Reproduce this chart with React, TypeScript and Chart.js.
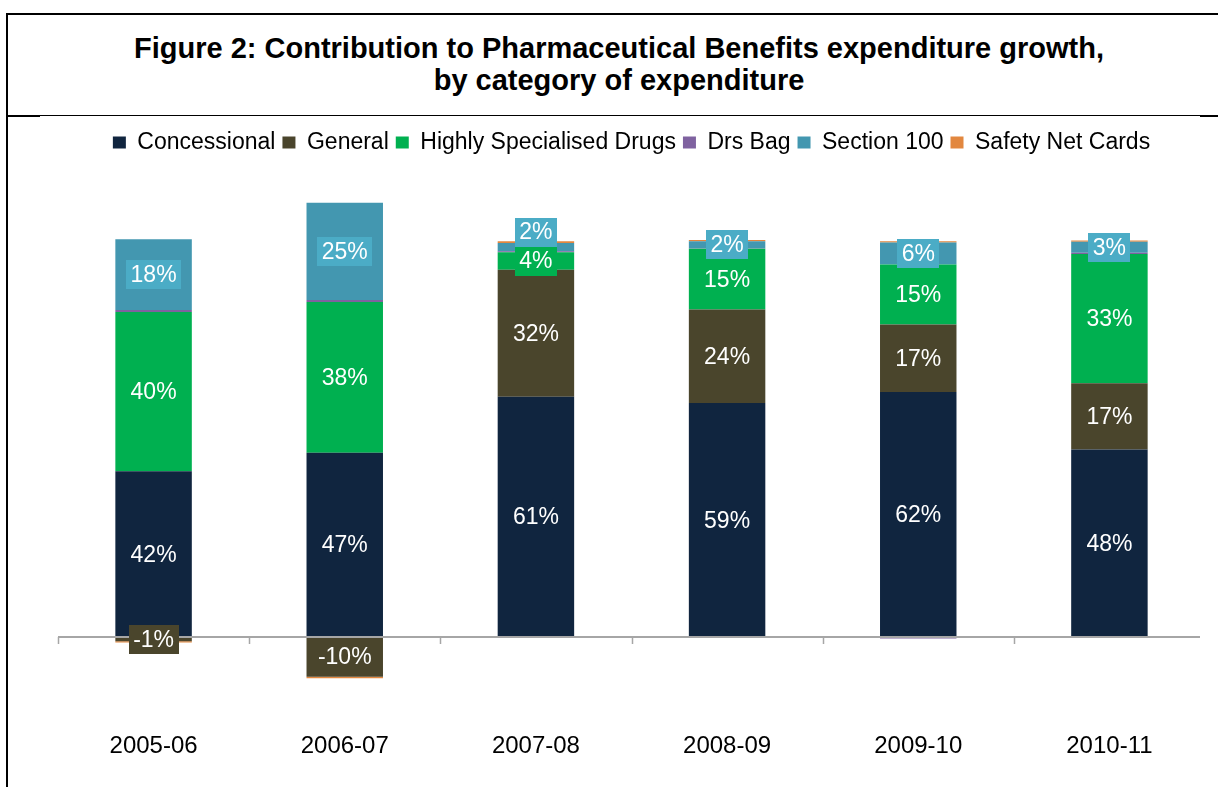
import React, { useEffect, useRef } from "react";
import { Chart, registerables } from "chart.js";

Chart.register(...registerables);

const categories = ["2005-06", "2006-07", "2007-08", "2008-09", "2009-10", "2010-11"];
const seriesNames = ["Concessional", "General", "Highly Specialised Drugs", "Drs Bag", "Section 100", "Safety Net Cards"];
const concessional = [42.1, 46.8, 61.0, 59.4, 62.2, 47.6];
const general = [-1.0, -10.0, 32.2, 23.7, 17.1, 16.8];
const highlySpecialised = [40.4, 38.2, 4.4, 15.4, 15.2, 32.8];
const drsBag = [0.5, 0.5, 0.3, 0.1, -0.3, 0.3];
const section100 = [17.9, 24.7, 2.1, 1.8, 5.6, 2.8];
const safetyNet = [-0.3, -0.4, 0.4, 0.3, 0.3, 0.3];

const barColors = ["#10253F", "#4A452C", "#00B050", "#7F62A0", "#4397B0", "#E2873F"];
const labelColors = ["#10253F", "#4A452C", "#00B050", null, "#4BACC6", null];
const FONT = "'Liberation Sans', Arial, Helvetica, sans-serif";

const segLabels = {
  id: "segLabels",
  afterDatasetsDraw(chart: any) {
    const ctx = chart.ctx;
    const xs = chart.scales.x;
    const ys = chart.scales.y;
    const y0 = Math.round(ys.getPixelForValue(0));
    const n = categories.length;
    const c0 = xs.getPixelForValue(0);
    const step = xs.getPixelForValue(1) - c0;
    ctx.save();
    ctx.strokeStyle = "#A6A6A6";
    ctx.lineWidth = 2;
    ctx.beginPath();
    ctx.moveTo(c0 - step / 2, y0);
    ctx.lineTo(c0 - step / 2 + n * step - 5, y0);
    ctx.stroke();
    ctx.lineWidth = 1.5;
    ctx.beginPath();
    for (let i = 0; i < n; i++) {
      const bx = Math.round(c0 - step / 2 + i * step) + 0.5;
      ctx.moveTo(bx, y0);
      ctx.lineTo(bx, y0 + 7);
    }
    ctx.stroke();

    ctx.font = `23px ${FONT}`;
    ctx.textAlign = "center";
    ctx.textBaseline = "middle";
    const lastTop: number[] = categories.map(() => Infinity);
    chart.data.datasets.forEach((ds: any, di: number) => {
      const bg = labelColors[di];
      if (!bg) return;
      const meta = chart.getDatasetMeta(di);
      meta.data.forEach((el: any, i: number) => {
        const v = ds.data[i];
        const t = Math.round(v) + "%";
        const p = el.getProps(["x", "y", "base"], true);
        const h = 29;
        let cy = (p.y + p.base) / 2;
        if (v >= 0) {
          if (cy + h / 2 > lastTop[i]) cy = lastTop[i] - h / 2;
          lastTop[i] = cy - h / 2;
        }
        const w = ctx.measureText(t).width + 9;
        ctx.fillStyle = bg;
        ctx.fillRect(Math.round(p.x - w / 2), Math.round(cy - h / 2), Math.round(w), h);
        ctx.fillStyle = "#FFFFFF";
        ctx.fillText(t, p.x, cy + 1);
      });
    });
    ctx.restore();
  },
};

export default function App() {
  const ref = useRef<HTMLCanvasElement | null>(null);
  useEffect(() => {
    if (!ref.current) return;
    const series = [concessional, general, highlySpecialised, drsBag, section100, safetyNet];
    const chart = new Chart(ref.current, {
      type: "bar",
      data: {
        labels: categories,
        datasets: series.map((d, i) => ({
          label: seriesNames[i],
          data: d,
          backgroundColor: barColors[i],
          borderWidth: 0,
          barPercentage: 0.4,
          categoryPercentage: 1,
        })),
      },
      options: {
        responsive: false,
        animation: false,
        layout: { padding: { left: 58, right: 13, top: 8, bottom: 18 } },
        plugins: {
          legend: {
            position: "top",
            labels: {
              boxWidth: 13,
              boxHeight: 12,
              padding: 7,
              color: "#000000",
              font: { family: FONT, size: 23 },
            },
          },
          tooltip: { enabled: false },
          title: { display: false },
        },
        scales: {
          x: {
            stacked: true,
            grid: { display: false },
            border: { display: false },
            ticks: { color: "#000000", font: { family: FONT, size: 24 }, padding: 8 },
          },
          y: {
            stacked: true,
            display: false,
            min: -20,
            max: 120,
          },
        },
      },
      plugins: [segLabels],
    });
    return () => chart.destroy();
  }, []);

  return (
    <div style={{ position: "absolute", left: 0, top: 0, width: 1218, height: 787, background: "#fff", overflow: "hidden" }}>
      <div style={{ position: "absolute", left: 6, top: 13, width: 1212, height: 2, background: "#000" }} />
      <div style={{ position: "absolute", left: 6, top: 13, width: 2, height: 774, background: "#000" }} />
      <div style={{ position: "absolute", left: 8, top: 115, width: 1210, height: 1, background: "#000" }} />
      <div style={{ position: "absolute", left: 8, top: 115, width: 32, height: 2, background: "#000" }} />
      <div style={{ position: "absolute", left: 1200, top: 115, width: 18, height: 2, background: "#000" }} />
      <div
        style={{
          position: "absolute",
          left: 20,
          top: 32,
          width: 1198,
          textAlign: "center",
          fontFamily: FONT,
          fontWeight: "bold",
          fontSize: 29,
          lineHeight: "32px",
          color: "#000",
          whiteSpace: "nowrap",
        }}
      >
        Figure 2: Contribution to Pharmaceutical Benefits expenditure growth,
        <br />
        by category of expenditure
      </div>
      <canvas ref={ref} width={1218} height={671} style={{ position: "absolute", left: 0, top: 116 }} />
    </div>
  );
}
